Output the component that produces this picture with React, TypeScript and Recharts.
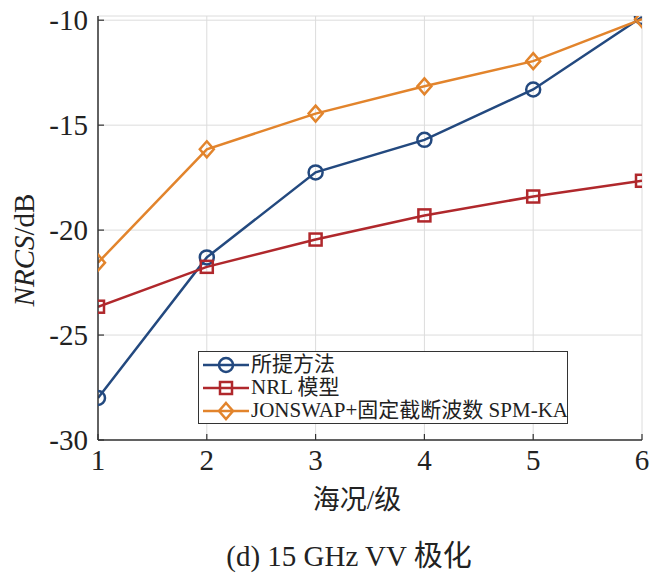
import {CartesianGrid, Legend, Line, LineChart, XAxis, YAxis} from "recharts";

const seaStates = [1, 2, 3, 4, 5, 6];
const proposed = [-28.0, -21.3, -17.25, -15.7, -13.3, -9.85];
const nrl = [-23.65, -21.75, -20.45, -19.3, -18.4, -17.65];
const jonswap = [-21.55, -16.15, -14.45, -13.15, -11.95, -9.95];
const yTicks = [-30, -25, -20, -15, -10];

const seriesNames = ["所提方法", "NRL 模型", "JONSWAP+固定截断波数 SPM-KA"];
const BLUE = "#23497f";
const RED = "#b0282c";
const ORANGE = "#e2842c";

const SERIF = "'Liberation Serif', 'Noto Sans CJK SC', serif";

const data = seaStates.map((x, i) => ({
    x,
    proposed: proposed[i],
    nrl: nrl[i],
    jonswap: jonswap[i]
}));

const Circle = (props: any) => {
    const {cx, cy} = props;
    return <circle cx={cx} cy={cy} r={7} fill="none" stroke={BLUE} strokeWidth={2.5}/>;
};

const Square = (props: any) => {
    const {cx, cy} = props;
    return <rect x={cx - 6} y={cy - 6} width={12} height={12} fill="none" stroke={RED} strokeWidth={2.5}/>;
};

const Diamond = (props: any) => {
    const {cx, cy} = props;
    return <path d={`M${cx},${cy - 8} L${cx + 7},${cy} L${cx},${cy + 8} L${cx - 7},${cy} Z`}
                 fill="none" stroke={ORANGE} strokeWidth={2.5}/>;
};

const markerFor = (i: number, cx: number, cy: number) => {
    if (i === 0) return <Circle cx={cx} cy={cy}/>;
    if (i === 1) return <Square cx={cx} cy={cy}/>;
    return <Diamond cx={cx} cy={cy}/>;
};

// ticks drawn by hand so the serif font really gets used
const XTick = (props: any) => {
    const {x, y, payload} = props;
    return (
        <g>
            <line x1={x} y1={440} x2={x} y2={434} stroke="#333" strokeWidth={1.2}/>
            <text x={x} y={y + 20} textAnchor="middle" fontFamily="Liberation Serif" fontSize={29}
                  fill="#222">{payload.value}</text>
        </g>
    );
};

const YTick = (props: any) => {
    const {x, y, payload} = props;
    return (
        <g>
            <line x1={98} y1={y} x2={104} y2={y} stroke="#333" strokeWidth={1.2}/>
            <text x={x} y={y + 10} textAnchor="end" fontFamily="Liberation Serif" fontSize={29}
                  fill="#222">{payload.value}</text>
        </g>
    );
};

const LegendBox = () => {
    const colors = [BLUE, RED, ORANGE];
    return (
        <div style={{
            border: "1.5px solid #333",
            background: "#fff",
            width: 368,
            padding: "1px 0 1px 0",
            fontFamily: SERIF,
            fontSize: 21,
            color: "#222",
            lineHeight: "23px",
            textAlign: "left"
        }}>
            {seriesNames.map((name, i) => (
                <div key={name} style={{display: "flex", alignItems: "center", height: 23}}>
                    <svg width={52} height={23} style={{flex: "none"}}>
                        <line x1={4} y1={12} x2={50} y2={12} stroke={colors[i]} strokeWidth={2.5}/>
                        {markerFor(i, 27, 12)}
                    </svg>
                    <span style={{whiteSpace: "nowrap"}}>{name}</span>
                </div>
            ))}
        </div>
    );
};

const YLabel = () => (
    <text x={24} y={250} transform="rotate(-90, 24, 250)" textAnchor="middle" dominantBaseline="central"
          fontFamily={SERIF} fontSize={29} fill="#222">
        <tspan fontStyle="italic">NRCS</tspan>/dB
    </text>
);

const XLabel = () => (
    <text x={357} y={500} textAnchor="middle" dominantBaseline="central"
          fontFamily={SERIF} fontSize={27} fill="#222">海况/级</text>
);

export default function App() {
    return (
        <div style={{position: "absolute", left: 0, top: 0, width: 654, height: 578, background: "#fff"}}>
            <LineChart width={654} height={530} data={data}
                       margin={{top: 16, right: 12, bottom: 0, left: 0}}>
                <CartesianGrid stroke="#dcdcdc" strokeWidth={1}/>
                <XAxis dataKey="x" type="number" domain={[1, 6]} ticks={seaStates} height={90}
                       allowDataOverflow interval={0}
                       axisLine={{stroke: "#333", strokeWidth: 1.5}} tickLine={false} tickMargin={4}
                       tick={<XTick/>}
                       label={<XLabel/>}/>
                <XAxis xAxisId="top" orientation="top" dataKey="x" type="number" domain={[1, 6]}
                       ticks={seaStates} height={0} tick={false} tickLine={false}
                       axisLine={{stroke: "#333", strokeWidth: 1.5}}/>
                <YAxis type="number" domain={[-30, -9.8]} ticks={yTicks} width={98} allowDataOverflow
                       axisLine={{stroke: "#333", strokeWidth: 1.5}} tickLine={false} tickMargin={4}
                       tick={<YTick/>}
                       label={<YLabel/>}/>
                <YAxis yAxisId="right" orientation="right" type="number" domain={[-30, -9.8]}
                       width={0} tick={false} tickLine={false}
                       axisLine={{stroke: "#333", strokeWidth: 1.5}}/>
                <Line dataKey="proposed" name={seriesNames[0]} stroke={BLUE} strokeWidth={2.5}
                      dot={<Circle/>} activeDot={false} isAnimationActive={false}/>
                <Line dataKey="nrl" name={seriesNames[1]} stroke={RED} strokeWidth={2.5}
                      dot={<Square/>} activeDot={false} isAnimationActive={false}/>
                <Line dataKey="jonswap" name={seriesNames[2]} stroke={ORANGE} strokeWidth={2.5}
                      dot={<Diamond/>} activeDot={false} isAnimationActive={false}/>
                <Legend content={<LegendBox/>} layout="horizontal" verticalAlign="middle" align="center"
                        wrapperStyle={{left: 198, top: 351, width: 372, height: 74}}/>
            </LineChart>
            <div style={{
                position: "absolute", left: 0, width: 698, top: 532, textAlign: "center",
                fontFamily: SERIF, fontSize: 29, color: "#222", whiteSpace: "pre"
            }}>
                (d) 15 GHz VV 极化
            </div>
        </div>
    );
}
